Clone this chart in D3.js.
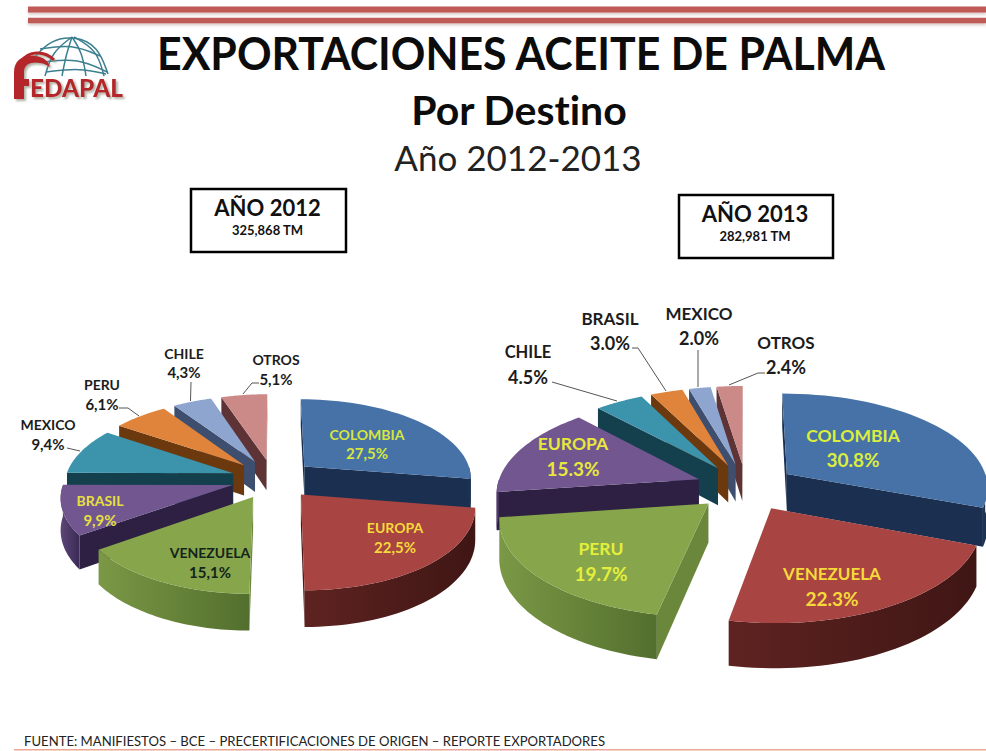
<!DOCTYPE html>
<html><head><meta charset="utf-8">
<script src="https://cdn.jsdelivr.net/npm/d3@7/dist/d3.min.js"></script>
<style>html,body{margin:0;padding:0;background:#fff}svg{display:block}text{font-family:Lato,"Open Sans",sans-serif;font-variant-ligatures:none}</style>
</head><body><div id="chart"></div>
<script>
// ---- data ----
const categories2012 = ["COLOMBIA","EUROPA","VENEZUELA","BRASIL","MEXICO","PERU","CHILE","OTROS"];
const values2012 = [27.5,22.5,15.1,9.9,9.4,6.1,4.3,5.1];
const labels2012 = ["27,5%","22,5%","15,1%","9,9%","9,4%","6,1%","4,3%","5,1%"];
const categories2013 = ["COLOMBIA","VENEZUELA","PERU","EUROPA","CHILE","BRASIL","MEXICO","OTROS"];
const values2013 = [30.8,22.3,19.7,15.3,4.5,3.0,2.0,2.4];
const labels2013 = ["30.8%","22.3%","19.7%","15.3%","4.5%","3.0%","2.0%","2.4%"];
const titleLines = ["EXPORTACIONES ACEITE DE PALMA","Por Destino","Año 2012-2013"];
const sourceText = "FUENTE: MANIFIESTOS – BCE – PRECERTIFICACIONES DE ORIGEN – REPORTE EXPORTADORES";

// ---- styles ----
const topColors  = ["#4672a8","#a84442","#87a64b","#72568f","#3b93ac","#e0843c","#8ea6cf","#cb8a88"];
const cutColors  = ["#1b3050","#4d1b1a","#6a873b","#2d2042","#143f4d","#6b390d","#3e4e6e","#5e3335"];
const wallLeft   = ["#1f3858","#5e2321","#7a9845","#5d4678","#1d5565","#7d4513","#4a5c80","#6c3c3e"];
const wallRight  = ["#182c48","#3f1614","#536f2e","#3a2a55","#123a47","#5e320b","#364562","#512c2e"];

// ---- layout ----
const W = 986, H = 751;
const pie2012 = {cx:273, cy:479, rx:168, ry:79, p:0.13, depth:31, e:0.25,
  order:[0,7,6,5,4,3,1,2], id:"a", categories:categories2012, values:values2012, pct:labels2012};
const pie2013 = {cx:746, cy:487, rx:202, ry:94, p:0.13, depth:38, e:0.25,
  order:[0,7,6,5,4,3,1,2], id:"b", categories:categories2013, values:values2013, pct:labels2013};
// label anchors: [cx, y name, y pct, name size, pct size, colour]
const labelLayout2012 = [
 [367,434,453,14,15,"#d6e63c"],[395,527,547,14,15,"#f6d93a"],[210,552,572,14,15,"#13241a"],[100,500,520,14,15,"#e6e040"],
 [48,424,444,14,15,"#1c1c1c"],[102,384,404,14,15,"#1c1c1c"],[184,353,372,14,15,"#1c1c1c"],[276,359,379,14,15,"#1c1c1c"]];
const labelLayout2013 = [
 [853,435,459,17.5,19,"#dcee3c"],[832,573,598,17,19,"#f6d93a"],[601,548,573,17.5,19,"#e4ee3c"],[573,443,468,17.5,19,"#e6e83c"],
 [528,352,377,16.5,18,"#1c1c1c"],[610,318,343,17,18,"#1c1c1c"],[699,313,338,17,18,"#1c1c1c"],[786,342,367,17,18,"#1c1c1c"]];
const leaders = [
 [[67,448],[80,451]],[[119,408],[128,408],[139,416]],[[191,382],[190.5,401]],[[259,383],[252,383],[243,394]],
 [[552,382],[617,401]],[[632,348],[638,348],[666,391]],[[698,350],[698,387]],[[765,373],[758,373],[729,385]]];

const svg = d3.select("#chart").append("svg").attr("width",W).attr("height",H).attr("viewBox",`0 0 ${W} ${H}`);
const defs = svg.append("defs");
const soft = defs.append("filter").attr("id","soft").attr("x","-20%").attr("y","-60%").attr("width","140%").attr("height","220%");
soft.append("feGaussianBlur").attr("stdDeviation",1.6);
const logoShadow = defs.append("filter").attr("id","logoShadow").attr("x","-10%").attr("y","-20%").attr("width","120%").attr("height","150%");
logoShadow.append("feDropShadow").attr("dx",2).attr("dy",2).attr("stdDeviation",0.8).attr("flood-color","#8f9080").attr("flood-opacity",0.7);

// ---- header bands ----
[[9.5,6],[20.5,5.5]].forEach(([y,h])=>{
  svg.append("rect").attr("x",28).attr("y",y-h/2+2).attr("width",W-28).attr("height",h).attr("fill","#d9c9c6").attr("filter","url(#soft)");
  svg.append("rect").attr("x",28).attr("y",y-h/2).attr("width",W-28).attr("height",h).attr("fill","#bf5a57");
});

// ---- titles ----
const t = svg.append("g").attr("text-anchor","middle").attr("fill","#0c0c0c");
t.append("text").attr("x",521).attr("y",70).attr("font-size",45).attr("font-weight",700)
  .attr("textLength",728).attr("lengthAdjust","spacingAndGlyphs").text(titleLines[0]);
t.append("text").attr("x",519).attr("y",125).attr("font-size",41).attr("font-weight",700).text(titleLines[1]);
t.append("text").attr("x",518).attr("y",171).attr("font-size",35).attr("font-weight",400).attr("fill","#222").text(titleLines[2]);

// ---- boxes ----
[[191,189,155,63,"AÑO 2012","325,868 TM"],[679,195,154,63,"AÑO 2013","282,981 TM"]].forEach(([x,y,w,h,a,b])=>{
  svg.append("rect").attr("x",x).attr("y",y).attr("width",w).attr("height",h).attr("fill","#fff").attr("stroke","#000").attr("stroke-width",2.5);
  svg.append("text").attr("x",x+w/2-1).attr("y",y+27).attr("text-anchor","middle").attr("font-size",22).attr("font-weight",700).attr("fill","#111").text(a);
  svg.append("text").attr("x",x+w/2-1).attr("y",y+46).attr("text-anchor","middle").attr("font-size",13).attr("font-weight",700).attr("fill","#111").text(b);
});

// ---- logo ----
const logo = svg.append("g").attr("fill","none").attr("stroke","#3c7f8e").attr("stroke-width",1.5);
const line = d3.line().curve(d3.curveBasis);
[ [[34,58],[50,40],[75,36],[98,46],[108,74]],
  [[40,49],[72,44],[100,56]], [[44,62],[78,58],[107,72]], [[46,72],[80,68],[106,74]],
  [[72,37],[52,52],[45,76]], [[72,37],[66,55],[62,76]], [[72,37],[82,52],[86,76]], [[74,37],[97,50],[104,76]]
].forEach(d=>logo.append("path").attr("d",line(d)));
const f = svg.append("g").attr("filter","url(#logoShadow)");
f.append("path").attr("d","M14 99 L14 72 C14 60 24 54 36 56 C44 57 49 62 50 67 C45 63 38 62 32 63 C26 64 24 68 24 73 L24 79 L29 79 L29 86 L24 86 L24 99 Z")
  .attr("fill","#b5282a");
f.append("path").attr("d","M22 61 C28 51 44 50 54 60").attr("fill","none").attr("stroke","#b5282a").attr("stroke-width",3);
f.append("text").attr("x",30).attr("y",97).attr("font-size",24).attr("font-weight",900).attr("fill","#b5282a")
  .attr("textLength",93).attr("lengthAdjust","spacingAndGlyphs").text("EDAPAL");

// ---- 3D exploded pies ----
function drawPie(cfg){
  const arcs = d3.pie().sort(null).value(d=>d)(cfg.values);
  const pieLine = d3.line();
  const project = (X,Z,h)=>{ const s=1/(1-cfg.p*Z); return [cfg.cx+cfg.rx*X*s, cfg.cy+(cfg.ry*Z+h*cfg.depth)*s]; };
  const g = svg.append("g");
  cfg.order.forEach(i=>{
    const a = arcs[i], mid=(a.startAngle+a.endAngle)/2;
    const ox=cfg.e*Math.sin(mid), oz=-cfg.e*Math.cos(mid);
    const rim=(th,h)=>project(ox+Math.sin(th),oz-Math.cos(th),h);
    const apex=h=>project(ox,oz,h);
    const steps=d3.range(0,41).map(k=>a.startAngle+(a.endAngle-a.startAngle)*k/40);
    const gid=`w${cfg.id}${i}`;
    const gr=defs.append("linearGradient").attr("id",gid);
    gr.append("stop").attr("offset","0%").attr("stop-color",wallLeft[i]);
    gr.append("stop").attr("offset","100%").attr("stop-color",wallRight[i]);
    // cut faces, only those facing the viewer
    [a.startAngle,a.endAngle].forEach(th=>{
      const q=[apex(0),rim(th,0),rim(th,1),apex(1)];
      const area=d3.polygonArea(q);
      const facing = th===a.startAngle ? area>0 : area<0;
      if(facing) g.append("path").attr("d",pieLine(q)+"Z").attr("fill",cutColors[i]);
    });
    // outer wall on the front half
    const lo=Math.max(a.startAngle,Math.PI/2), hi=Math.min(a.endAngle,Math.PI*1.5);
    if(hi>lo){
      const ths=d3.range(0,41).map(k=>lo+(hi-lo)*k/40);
      const pts=ths.map(th=>rim(th,0)).concat(ths.slice().reverse().map(th=>rim(th,1)));
      g.append("path").attr("d",pieLine(pts)+"Z").attr("fill",`url(#${gid})`);
    }
    // top face
    const top=[apex(0)].concat(steps.map(th=>rim(th,0)));
    g.append("path").attr("d",pieLine(top)+"Z").attr("fill",topColors[i]);
  });
}
drawPie(pie2012);
drawPie(pie2013);

// ---- leader lines ----
leaders.forEach(p=>svg.append("path").attr("d",d3.line()(p)).attr("fill","none").attr("stroke","#555").attr("stroke-width",1));

// ---- labels ----
function drawLabels(cfg,layout){
  cfg.categories.forEach((c,i)=>{
    const [x,y1,y2,s1,s2,col]=layout[i];
    const tg=svg.append("g").attr("text-anchor","middle").attr("fill",col).attr("font-weight",700).attr("dominant-baseline","central");
    tg.append("text").attr("x",x).attr("y",y1).attr("font-size",s1).text(c);
    tg.append("text").attr("x",x).attr("y",y2).attr("font-size",s2).text(cfg.pct[i]);
  });
}
drawLabels(pie2012,labelLayout2012);
drawLabels(pie2013,labelLayout2013);

// ---- footer ----
svg.append("text").attr("x",24).attr("y",746).attr("font-size",14).attr("fill","#222")
  .attr("textLength",581).attr("lengthAdjust","spacingAndGlyphs").text(sourceText);
svg.append("rect").attr("x",14).attr("y",749).attr("width",W-14).attr("height",1.5).attr("fill","#eba898");
</script></body></html>
